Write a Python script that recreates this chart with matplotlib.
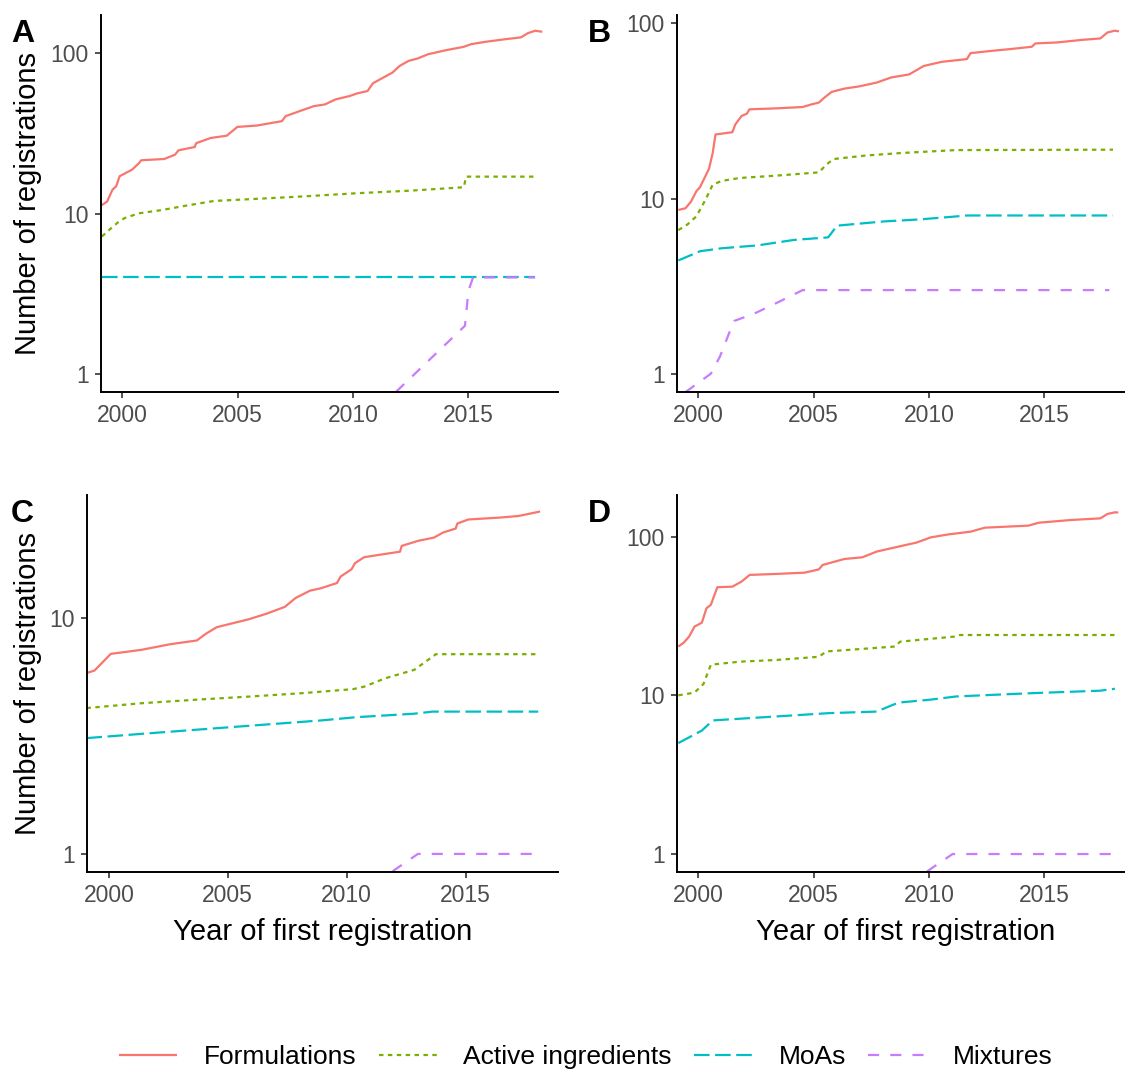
import matplotlib.pyplot as plt
from matplotlib.ticker import FixedLocator, NullLocator, FixedFormatter

plt.rcParams["font.family"] = ["Liberation Sans", "DejaVu Sans"]

# --- data (cumulative registrations) ---
series_names = ["Formulations", "Active ingredients", "MoAs", "Mixtures"]

# panel A
a_form_x = [1999.12, 1999.35, 1999.58, 1999.74, 1999.89, 2000.43, 2000.74, 2000.82, 2001.82, 2002.29,
            2002.44, 2003.14, 2003.21, 2003.83, 2004.53, 2004.99, 2005.84, 2006.92, 2007.08, 2007.70,
            2008.31, 2008.78, 2009.24, 2009.86, 2010.17, 2010.63, 2010.86, 2011.25, 2011.71, 2012.02,
            2012.41, 2012.79, 2013.26, 2014.03, 2014.80, 2015.11, 2015.73, 2016.65, 2017.27, 2017.58,
            2017.89, 2018.20]
a_form_y = [11.3, 11.9, 14.1, 14.8, 17.1, 18.8, 20.7, 21.5, 21.9, 23.3,
            24.8, 26.0, 27.5, 29.6, 30.6, 34.7, 35.4, 37.7, 40.5, 43.6,
            46.8, 47.9, 51.5, 54.1, 56.1, 58.1, 64.9, 69.7, 75.7, 83.3,
            89.6, 92.6, 98.6, 104.4, 109.6, 113.8, 117.7, 122.5, 125.4, 133.4,
            138, 136]
a_act_x = [1999.12, 1999.43, 1999.81, 2000.12, 2000.74, 2001.67, 2002.75, 2003.99, 2005.53, 2007.85,
           2010.17, 2012.48, 2014.80, 2014.90, 2017.89]
a_act_y = [7.2, 7.9, 8.8, 9.4, 10.05, 10.5, 11.2, 12.0, 12.3, 12.8, 13.4, 13.9, 14.6, 17, 17]
a_moa_x = [1999.12, 2017.89]
a_moa_y = [4, 4]
a_mix_x = [2011.87, 2014.85, 2015.0, 2015.2, 2017.89]
a_mix_y = [0.776, 2, 3.3, 4, 4]

# panel B
b_form_x = [1999.14, 1999.45, 1999.69, 1999.92, 2000.08, 2000.31, 2000.47, 2000.63, 2000.75, 2001.48,
            2001.61, 2001.88, 2002.11, 2002.22, 2003.36, 2004.53, 2004.92, 2005.23, 2005.47, 2005.78,
            2006.33, 2006.95, 2007.73, 2008.36, 2009.14, 2009.77, 2010.55, 2011.64, 2011.80, 2012.73,
            2013.52, 2014.45, 2014.61, 2015.55, 2016.64, 2017.42, 2017.73, 2018.05, 2018.23]
b_form_y = [8.6, 8.8, 9.6, 11.0, 11.6, 13.4, 14.8, 18.2, 23.2, 23.9,
            26.5, 29.6, 30.5, 32.3, 32.7, 33.3, 34.5, 35.3, 37.7, 40.6,
            42.4, 43.6, 45.9, 49.1, 51.1, 57.1, 60.3, 62.5, 67.6, 69.7,
            71.3, 73.5, 76.8, 77.8, 80.5, 82.0, 88.7, 90.8, 90]
b_act_x = [1999.14, 1999.53, 1999.92, 2000.31, 2000.63, 2001.02, 2001.80, 2003.36, 2005.23, 2005.55,
           2005.86, 2007.27, 2008.83, 2011.17, 2017.97]
b_act_y = [6.6, 7.1, 7.9, 9.8, 12.0, 12.6, 13.1, 13.5, 14.1, 15.6, 16.8, 17.6, 18.2, 18.9, 19]
b_moa_x = [1999.14, 2000.08, 2001.02, 2002.58, 2004.14, 2005.63, 2006.02, 2008.05, 2009.61, 2011.17,
           2011.64, 2017.97]
b_moa_y = [4.43, 5.0, 5.2, 5.4, 5.8, 6.0, 7.0, 7.4, 7.6, 7.9, 8.0, 8.0]
b_mix_x = [1999.45, 2000.55, 2000.94, 2001.33, 2001.56, 2002.42, 2003.36, 2004.53, 2017.81]
b_mix_y = [0.785, 1.0, 1.25, 1.69, 2.0, 2.2, 2.52, 3.0, 3.0]

# panel C
c_form_x = [1999.06, 1999.40, 1999.70, 2000.08, 2001.36, 2002.57, 2003.70, 2004.08, 2004.53, 2005.89,
            2006.65, 2007.40, 2007.85, 2008.46, 2008.91, 2009.59, 2009.74, 2010.20, 2010.35, 2010.73,
            2011.33, 2012.24, 2012.31, 2012.99, 2013.67, 2014.05, 2014.58, 2014.65, 2015.11, 2016.47,
            2017.22, 2018.13]
c_form_y = [5.82, 5.97, 6.41, 7.02, 7.3, 7.71, 8.0, 8.54, 9.1, 9.84,
            10.4, 11.1, 12.1, 13.0, 13.3, 14.0, 14.9, 16.0, 17.0, 18.0,
            18.4, 19.0, 20.1, 21.1, 21.8, 22.9, 23.8, 25.0, 26.0, 26.5,
            26.9, 28.1]
c_act_x = [1999.06, 2001.36, 2003.63, 2005.89, 2008.16, 2010.27, 2010.73, 2011.63, 2012.84, 2013.75, 2018.05]
c_act_y = [4.14, 4.34, 4.49, 4.63, 4.79, 4.98, 5.1, 5.54, 6.01, 7.0, 7.0]
c_moa_x = [1999.06, 2001.36, 2004.98, 2008.91, 2010.42, 2012.84, 2013.60, 2018.05]
c_moa_y = [3.09, 3.22, 3.43, 3.67, 3.79, 3.92, 4.0, 4.0]
c_mix_x = [2011.93, 2012.99, 2018.05]
c_mix_y = [0.845, 1, 1]

# panel D
d_form_x = [1999.14, 1999.38, 1999.61, 1999.84, 2000.16, 2000.36, 2000.55, 2000.83, 2001.48, 2001.88,
            2002.23, 2003.36, 2004.61, 2005.23, 2005.39, 2006.33, 2007.11, 2007.73, 2008.67, 2009.45,
            2010.08, 2010.86, 2011.80, 2012.42, 2014.30, 2014.77, 2016.17, 2017.42, 2017.73, 2018.05,
            2018.20]
d_form_y = [20.3, 21.5, 23.5, 27.1, 28.7, 35.4, 37.2, 48.0, 48.4, 52.1,
            57.4, 58.2, 59.3, 62.2, 66.3, 72.3, 74.1, 80.5, 86.5, 91.7,
            99.0, 103.4, 107.5, 113.9, 117.3, 122.5, 127.4, 130.4, 139, 142.3,
            142]
d_act_x = [1999.14, 1999.84, 2000.23, 2000.55, 2001.80, 2003.36, 2005.23, 2005.55, 2008.52, 2008.75,
           2011.17, 2011.33, 2018.05]
d_act_y = [10.0, 10.4, 11.8, 15.6, 16.3, 16.7, 17.5, 18.9, 20.3, 21.8, 23.5, 24.0, 24.0]
d_moa_x = [1999.14, 2000.16, 2000.63, 2003.36, 2005.70, 2007.73, 2008.67, 2010.08, 2011.17, 2014.30,
           2017.42, 2018.05]
d_moa_y = [5.0, 6.0, 6.95, 7.36, 7.73, 7.9, 9.0, 9.4, 9.84, 10.3, 10.7, 11.0]
d_mix_x = [2009.92, 2011.02, 2018.05]
d_mix_y = [0.778, 1, 1]

x_ticks = [2000, 2005, 2010, 2015]

# --- styling ---
colors = ["#F8766D", "#7CAE00", "#00BFC4", "#C77CFF"]
dash_styles = [None, (2, 2), (7, 2.5), (5, 5)]
W, H = 1125, 1073

panels = [
    # letter, series, pixel box (left, right, top, bottom), y ticks, y limits
    ("A", [(a_form_x, a_form_y), (a_act_x, a_act_y), (a_moa_x, a_moa_y), (a_mix_x, a_mix_y)],
     (100.7, 558, 15, 391.7), [1, 10, 100], (0.776, 173)),
    ("B", [(b_form_x, b_form_y), (b_act_x, b_act_y), (b_moa_x, b_moa_y), (b_mix_x, b_mix_y)],
     (676.7, 1134, 15, 391.7), [1, 10, 100], (0.789, 111.6)),
    ("C", [(c_form_x, c_form_y), (c_act_x, c_act_y), (c_moa_x, c_moa_y), (c_mix_x, c_mix_y)],
     (86.7, 558, 495, 871.7), [1, 10], (0.841, 33.0)),
    ("D", [(d_form_x, d_form_y), (d_act_x, d_act_y), (d_moa_x, d_moa_y), (d_mix_x, d_mix_y)],
     (676.7, 1134, 495, 871.7), [1, 10, 100], (0.774, 183)),
]
letter_pos = {"A": (11, 42), "B": (588, 42), "C": (11, 522), "D": (588, 522)}

fig = plt.figure(figsize=(W / 100, H / 100), dpi=100)
handles = []

for letter, series, (l, r, t, b), yt, ylim in panels:
    ax = fig.add_axes([l / W, 1 - b / H, (r - l) / W, (b - t) / H])
    ax.set_yscale("log")
    for i, (xs, ys) in enumerate(series):
        line, = ax.plot(xs, ys, color=colors[i], lw=1.6, label=series_names[i],
                        solid_capstyle="butt", dash_capstyle="butt")
        if dash_styles[i] is not None:
            line.set_dashes(dash_styles[i])
        if letter == "A":
            handles.append(line)
    ax.set_xlim(1999.07, 2018.88)
    ax.set_ylim(*ylim)
    ax.yaxis.set_major_locator(FixedLocator(yt))
    ax.yaxis.set_major_formatter(FixedFormatter([str(v) for v in yt]))
    ax.yaxis.set_minor_locator(NullLocator())
    ax.set_xticks(x_ticks)
    ax.set_xticklabels([str(v) for v in x_ticks])
    for side in ["top", "right"]:
        ax.spines[side].set_visible(False)
    for side in ["left", "bottom"]:
        ax.spines[side].set_linewidth(1.4)
        ax.spines[side].set_color("black")
    ax.tick_params(axis="both", which="major", length=4.5, width=1.2, color="#333333",
                   labelsize=16.5, labelcolor="#4D4D4D", pad=4)
    if letter in ("A", "C"):
        ax.set_ylabel("Number of registrations", fontsize=21, color="black")
        ax.yaxis.set_label_coords((42 - l) / (r - l), 0.5)
    if letter in ("C", "D"):
        ax.set_xlabel("Year of first registration", fontsize=21, color="black")
        ax.xaxis.set_label_coords(0.5, (b - 918) / (b - t))
    lx, ly = letter_pos[letter]
    fig.text(lx / W, 1 - ly / H, letter, fontsize=23, fontweight="bold", ha="left", va="baseline")

fig.legend(handles, series_names, loc="center", bbox_to_anchor=(586 / W, 1 - 1057 / H), ncol=4,
           frameon=False, fontsize=19, handlelength=2.2, handletextpad=1.0, columnspacing=0.85)

fig.savefig("out.png", dpi=100, facecolor="white")
